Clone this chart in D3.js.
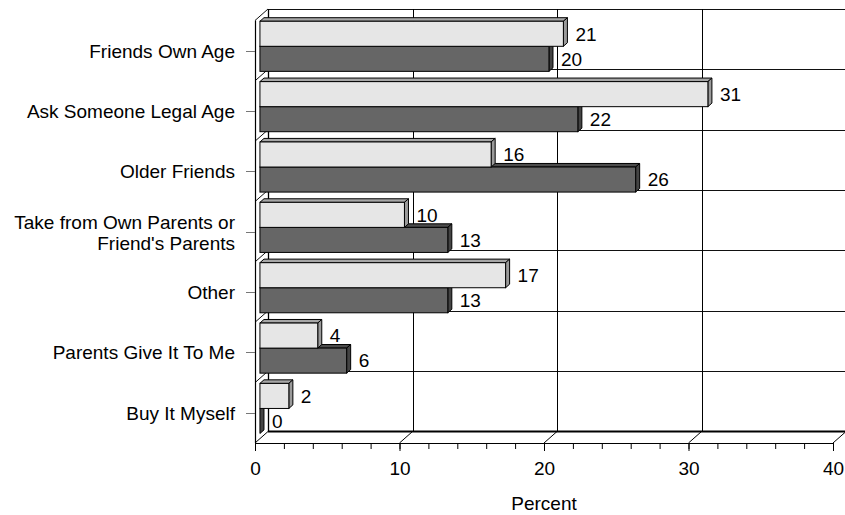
<!DOCTYPE html>
<html>
<head>
<meta charset="utf-8">
<script src="https://cdn.jsdelivr.net/npm/d3@7"></script>
<style>
  html, body { margin: 0; padding: 0; background: #fff; }
  svg { display: block; }
  text { font-family: "Liberation Sans", Arial, Helvetica, sans-serif; fill: #000; }
</style>
</head>
<body>
<svg id="chart" width="845" height="515"></svg>
<script>
// ---- data ----
const categories = [
  "Friends Own Age",
  "Ask Someone Legal Age",
  "Older Friends",
  "Take from Own Parents or\nFriend's Parents",
  "Other",
  "Parents Give It To Me",
  "Buy It Myself"
];
const seriesNames = ["Series 1", "Series 2"];
const valuesLight = [21, 31, 16, 10, 17, 4, 2];
const valuesDark  = [20, 22, 26, 13, 13, 6, 0];
const xTickValues = [0, 10, 20, 30, 40];
const xMinorTickValues = d3.range(0, 41, 2);
const axisTitle = "Percent";

// ---- layout ----
const W = 845, H = 515;
const front = { left: 255, right: 833, top: 20.5, bottom: 443 };
const DX = 13, DY = -11.5;          // full depth offset (front plane -> back wall)
const f1 = 0.38, f2 = 0.69;         // bar depth slice
const FONT = "19px";

const svg = d3.select("#chart");

const x = d3.scaleLinear().domain([0, 40]).range([front.left, front.right]);
const y = d3.scaleBand().domain(categories).range([front.top, front.bottom])
  .paddingInner(0.17).paddingOuter(0.085);
const yGrid = d3.scaleBand().domain(categories).range([front.top, front.bottom]).padding(0);
const ySeries = d3.scaleBand().domain(seriesNames).range([0, y.bandwidth()]);

const colors = {
  "Series 1": { front: "#e6e6e6", top: "#a6a6a6", side: "#9a9a9a" },
  "Series 2": { front: "#666666", top: "#4d4d4d", side: "#444444" }
};

const g = svg.append("g");

// ---- back wall gridlines ----
const backTop = front.top + DY, backBottom = front.bottom + DY;
const bounds = categories.map(c => yGrid(c)).concat([front.bottom]);
bounds.forEach((b, i) => {
  if (i === bounds.length - 1) return;
  g.append("line")
    .attr("x1", front.left + DX).attr("x2", W + 5)
    .attr("y1", Math.round(b + DY) + 0.5).attr("y2", Math.round(b + DY) + 0.5)
    .attr("stroke", "#111").attr("stroke-width", 1);
  g.append("line")
    .attr("x1", front.left).attr("y1", b)
    .attr("x2", front.left + DX).attr("y2", b + DY)
    .attr("stroke", "#111").attr("stroke-width", 1);
});
xTickValues.forEach(v => {
  const xx = Math.round(x(v) + DX) + 0.5;
  g.append("line")
    .attr("x1", xx).attr("x2", xx)
    .attr("y1", backTop).attr("y2", backBottom)
    .attr("stroke", "#000").attr("stroke-width", v === 0 ? 1.3 : 1);
  g.append("line")
    .attr("x1", x(v)).attr("y1", front.bottom)
    .attr("x2", x(v) + DX).attr("y2", front.bottom + DY)
    .attr("stroke", "#000").attr("stroke-width", 1);
});
g.append("line")
  .attr("x1", front.left + DX).attr("x2", W + 5)
  .attr("y1", backBottom).attr("y2", backBottom)
  .attr("stroke", "#000").attr("stroke-width", 2.2);
g.append("line")
  .attr("x1", front.left).attr("x2", front.right)
  .attr("y1", front.bottom + 0.5).attr("y2", front.bottom + 0.5)
  .attr("stroke", "#000").attr("stroke-width", 1);
g.append("line")
  .attr("x1", front.left + 0.5).attr("x2", front.left + 0.5)
  .attr("y1", front.top).attr("y2", front.bottom)
  .attr("stroke", "#000").attr("stroke-width", 1.2);

// ---- bars (3D boxes) ----
const barsG = svg.append("g");
const rows = [];
categories.forEach((c, i) => {
  rows.push({ cat: c, series: "Series 1", value: valuesLight[i] });
  rows.push({ cat: c, series: "Series 2", value: valuesDark[i] });
});
const ax = DX * f1, ay = DY * f1, bx = DX * f2, by = DY * f2;
const ddx = bx - ax, ddy = by - ay;

rows.slice().reverse().forEach(d => {
  const x0 = x(0) + ax, x1 = x(d.value) + ax;
  const y0 = y(d.cat) + ySeries(d.series) + ay;
  const y1 = y0 + ySeries.bandwidth();
  const col = colors[d.series];
  const bar = barsG.append("g");
  bar.append("path")
    .attr("d", `M${x0},${y0} L${x1},${y0} L${x1 + ddx},${y0 + ddy} L${x0 + ddx},${y0 + ddy} Z`)
    .attr("fill", col.top).attr("stroke", "#000").attr("stroke-width", 1).attr("stroke-linejoin", "round");
  bar.append("path")
    .attr("d", `M${x1},${y0} L${x1 + ddx},${y0 + ddy} L${x1 + ddx},${y1 + ddy} L${x1},${y1} Z`)
    .attr("fill", col.side).attr("stroke", "#000").attr("stroke-width", 1).attr("stroke-linejoin", "round");
  bar.append("rect")
    .attr("x", x0).attr("y", y0)
    .attr("width", Math.max(0, x1 - x0)).attr("height", y1 - y0)
    .attr("fill", col.front).attr("stroke", "#000").attr("stroke-width", 1);
  svg.append("text")
    .attr("x", x1 + 12).attr("y", (y0 + y1) / 2)
    .attr("dy", "0.36em")
    .style("font-size", FONT)
    .text(d.value);
});

// ---- category axis ----
categories.forEach(c => {
  const cy = Math.round(yGrid(c) + yGrid.bandwidth() / 2) + 0.5;
  svg.append("line")
    .attr("x1", front.left - 9).attr("x2", front.left)
    .attr("y1", cy).attr("y2", cy)
    .attr("stroke", "#777").attr("stroke-width", 1);
  const lines = c.split("\n");
  const t = svg.append("text")
    .attr("text-anchor", "end")
    .style("font-size", FONT);
  lines.forEach((ln, k) => {
    t.append("tspan")
      .attr("x", front.left - 20)
      .attr("y", cy + (k - (lines.length - 1) / 2) * 21)
      .attr("dy", "0.36em")
      .text(ln);
  });
});

// ---- value axis ----
const axMinor = d3.axisBottom(x).tickValues(xMinorTickValues).tickSize(5).tickFormat("");
const axMajor = d3.axisBottom(x).tickValues(xTickValues).tickSize(8).tickPadding(10.5);
const gMinor = svg.append("g").attr("transform", `translate(0,${front.bottom + 1})`).call(axMinor);
gMinor.select(".domain").remove();
gMinor.selectAll("line").attr("stroke", "#000");
const gMajor = svg.append("g").attr("transform", `translate(0,${front.bottom})`).call(axMajor);
gMajor.select(".domain").remove();
gMajor.selectAll("line").attr("stroke", "#000");
gMajor.selectAll("text").style("font-size", FONT).style("font-family", '"Liberation Sans", Arial, sans-serif').attr("fill", "#000");

svg.append("text")
  .attr("x", (front.left + front.right) / 2)
  .attr("y", 503).attr("dy", "0.36em")
  .attr("text-anchor", "middle")
  .style("font-size", FONT)
  .text(axisTitle);
</script>
</body>
</html>
